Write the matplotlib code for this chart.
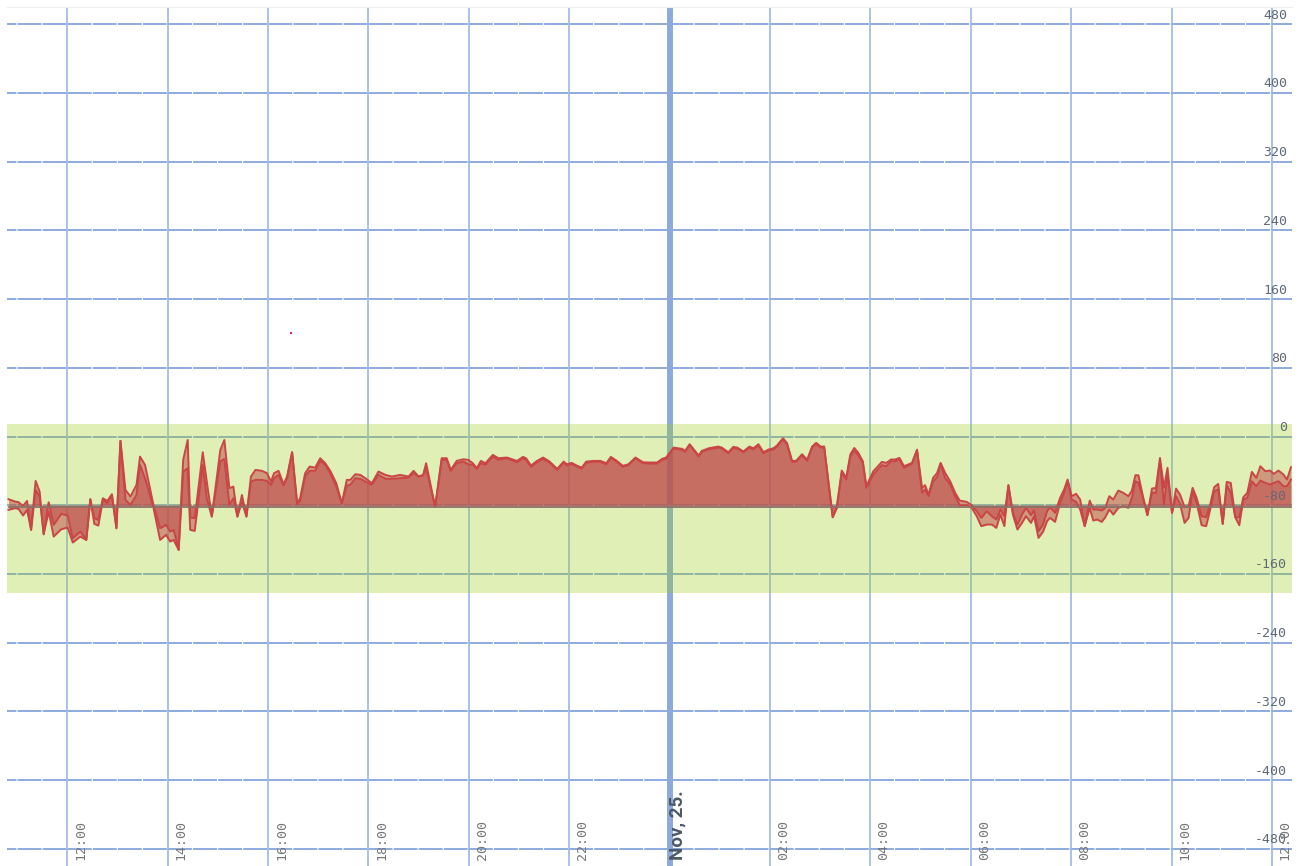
import matplotlib
matplotlib.use("Agg")
import matplotlib.pyplot as plt

# horas desde Nov 24 00:00
hours = [10.83, 10.96, 11.03, 11.12, 11.20, 11.28, 11.37, 11.45, 11.53, 11.63,
         11.73, 11.88, 12.01, 12.11, 12.26, 12.38, 12.46, 12.54, 12.62, 12.71,
         12.80, 12.89, 12.98, 13.06, 13.16, 13.26, 13.38, 13.45, 13.55, 13.72,
         13.85, 13.97, 14.05, 14.12, 14.22, 14.31, 14.40, 14.45, 14.54, 14.70,
         14.78, 14.88, 15.05, 15.13, 15.23, 15.31, 15.39, 15.48, 15.57, 15.66,
         15.75, 15.88, 15.98, 16.06, 16.12, 16.21, 16.31, 16.38, 16.48, 16.58,
         16.64, 16.74, 16.83, 16.94, 17.04, 17.14, 17.24, 17.36, 17.47, 17.57,
         17.64, 17.74, 17.84, 17.94, 18.07, 18.20, 18.34, 18.47, 18.63, 18.80,
         18.90, 19.00, 19.09, 19.15, 19.33, 19.46, 19.56, 19.64, 19.76, 19.89,
         19.99, 20.08, 20.16, 20.24, 20.33, 20.48, 20.59, 20.76, 20.96, 21.08,
         21.14, 21.24, 21.36, 21.48, 21.61, 21.76, 21.89, 21.95, 22.05, 22.15,
         22.25, 22.34, 22.49, 22.62, 22.74, 22.83, 22.95, 23.07, 23.18, 23.32,
         23.47, 23.61, 23.75, 23.85, 23.93, 24.08, 24.25, 24.31, 24.40, 24.58,
         24.64, 24.78, 24.97, 25.04, 25.17, 25.27, 25.35, 25.47, 25.59, 25.67,
         25.77, 25.87, 25.97, 26.07, 26.14, 26.26, 26.34, 26.44, 26.52, 26.64,
         26.74, 26.84, 26.92, 27.01, 27.08, 27.25, 27.33, 27.43, 27.52, 27.60,
         27.68, 27.76, 27.85, 27.92, 28.06, 28.23, 28.32, 28.41, 28.49, 28.58,
         28.67, 28.83, 28.93, 29.03, 29.09, 29.16, 29.25, 29.33, 29.40, 29.49,
         29.59, 29.69, 29.78, 29.92, 30.02, 30.12, 30.21, 30.32, 30.42, 30.51,
         30.59, 30.67, 30.75, 30.84, 30.93, 31.02, 31.10, 31.20, 31.26, 31.35,
         31.44, 31.52, 31.58, 31.68, 31.78, 31.86, 31.93, 32.01, 32.10, 32.18,
         32.27, 32.37, 32.44, 32.52, 32.61, 32.68, 32.76, 32.84, 32.94, 33.04,
         33.14, 33.21, 33.28, 33.34, 33.43, 33.52, 33.61, 33.69, 33.77, 33.85,
         33.92, 34.01, 34.09, 34.17, 34.26, 34.34, 34.42, 34.50, 34.60, 34.69,
         34.77, 34.85, 34.93, 35.02, 35.10, 35.18, 35.27, 35.35, 35.43, 35.51,
         35.60, 35.69, 35.77, 35.87, 35.96, 36.04, 36.13, 36.23, 36.30, 36.38]

serie_a = [-73.0, -75.7, -76.5, -80.8, -75.0, -108.7, -51.7, -64.1, -113.8, -76.5,
           -102.9, -90.0, -92.0, -118.4, -110.7, -120.4, -73.0, -95.1, -97.1, -71.9,
           -75.0, -67.2, -106.8, -5.1, -62.2, -69.9, -56.3, -23.4, -33.1, -80.4,
           -106.8, -102.9, -110.7, -108.7, -132.0, -27.2, -4.0, -94.4, -95.1, -18.3,
           -52.5, -93.2, -15.6, -4.0, -60.2, -58.3, -93.2, -68.0, -93.2, -46.6,
           -38.9, -40.0, -42.7, -52.5, -42.7, -40.0, -55.6, -46.6, -18.3, -77.7,
           -71.9, -42.7, -35.0, -36.2, -25.3, -31.1, -40.0, -54.4, -77.7, -50.5,
           -50.5, -43.9, -44.7, -48.6, -54.4, -40.8, -44.7, -46.6, -44.7, -46.6,
           -40.0, -46.6, -44.7, -31.1, -82.0, -25.3, -25.3, -38.9, -28.4, -26.5,
           -27.2, -31.1, -36.9, -28.4, -31.1, -21.4, -25.3, -24.5, -28.4, -23.7,
           -25.3, -33.8, -28.4, -24.5, -29.2, -37.7, -29.2, -32.3, -30.7, -33.8,
           -36.2, -29.2, -28.4, -28.4, -31.1, -23.7, -28.4, -34.2, -32.3, -24.5,
           -30.0, -30.3, -30.3, -26.1, -24.5, -12.9, -14.4, -16.8, -9.0, -22.2,
           -16.8, -13.7, -11.7, -12.9, -18.3, -12.1, -12.9, -17.5, -11.7, -13.7,
           -9.0, -18.3, -15.2, -13.7, -10.5, -2.0, -7.8, -28.4, -28.4, -20.6,
           -27.2, -11.7, -7.4, -11.7, -11.7, -94.0, -83.1, -39.6, -48.2, -21.0,
           -13.3, -19.1, -28.8, -57.9, -40.4, -29.6, -30.7, -26.8, -26.8, -24.9,
           -34.6, -30.7, -15.2, -59.8, -56.7, -67.6, -48.2, -42.4, -30.7, -42.4,
           -52.1, -65.6, -74.6, -76.1, -80.0, -87.0, -94.7, -87.0, -92.8, -96.7,
           -85.0, -92.8, -56.7, -88.9, -102.5, -90.9, -83.1, -91.6, -86.2, -110.3,
           -102.5, -87.0, -82.3, -88.9, -71.5, -61.8, -50.1, -69.5, -66.8, -73.4,
           -104.4, -74.6, -85.0, -85.0, -86.2, -83.1, -69.5, -73.4, -62.9, -65.6,
           -69.5, -62.9, -45.1, -45.1, -69.5, -91.6, -60.6, -59.8, -24.9, -59.8,
           -36.5, -88.9, -60.6, -67.6, -82.3, -81.2, -59.8, -71.5, -92.8, -94.0,
           -79.2, -59.0, -55.2, -101.7, -52.8, -54.0, -94.0, -94.0, -70.7, -65.6,
           -41.2, -48.2, -34.6, -40.4, -39.6, -43.5, -39.6, -44.3, -50.1, -35.8]

serie_b = [-85.4, -83.5, -84.3, -92.0, -85.4, -108.7, -62.2, -69.9, -113.8, -87.4,
           -116.5, -108.0, -106.0, -123.5, -116.5, -120.4, -73.0, -101.7, -103.7, -73.8,
           -77.7, -68.0, -106.8, -5.1, -73.8, -79.6, -68.0, -33.1, -48.6, -83.5,
           -120.4, -114.5, -122.3, -120.4, -132.0, -40.8, -37.1, -108.7, -109.9, -33.1,
           -72.0, -93.2, -29.2, -26.0, -79.6, -71.9, -93.2, -75.7, -93.2, -52.5,
           -50.5, -50.5, -51.7, -56.3, -48.6, -44.7, -57.1, -48.6, -18.3, -78.8,
           -75.0, -46.6, -40.0, -40.0, -28.4, -33.0, -42.7, -58.3, -77.7, -57.1,
           -56.3, -48.6, -49.3, -52.5, -56.3, -44.7, -49.3, -49.3, -48.6, -47.8,
           -42.7, -46.6, -45.5, -36.9, -82.0, -27.2, -27.2, -40.0, -31.1, -29.2,
           -32.3, -33.0, -37.7, -31.1, -33.0, -23.3, -27.2, -25.3, -30.0, -25.5,
           -27.0, -35.5, -30.0, -26.0, -30.5, -39.0, -30.5, -33.5, -32.0, -35.0,
           -37.5, -30.5, -29.5, -29.5, -32.5, -25.0, -29.5, -35.5, -33.5, -25.5,
           -31.0, -31.5, -31.5, -27.5, -26.0, -14.0, -15.5, -18.0, -10.0, -23.5,
           -18.0, -15.0, -13.0, -14.0, -19.5, -13.5, -14.0, -18.5, -13.0, -15.0,
           -10.5, -19.5, -16.5, -15.0, -12.0, -3.5, -9.0, -29.5, -29.5, -22.0,
           -28.5, -13.0, -8.5, -13.0, -13.0, -94.0, -83.1, -42.4, -50.1, -24.1,
           -16.4, -21.8, -30.7, -59.8, -44.3, -33.4, -34.6, -28.8, -28.8, -26.8,
           -36.5, -31.9, -16.4, -65.6, -61.8, -69.5, -52.1, -47.4, -31.9, -48.2,
           -55.9, -69.5, -80.0, -80.0, -83.1, -92.8, -104.4, -102.5, -102.5, -106.4,
           -90.9, -104.4, -56.7, -90.9, -108.3, -100.6, -92.8, -100.6, -92.8, -118.0,
           -111.0, -98.6, -94.7, -99.4, -77.3, -65.6, -52.1, -73.4, -76.1, -85.0,
           -104.4, -83.1, -97.8, -96.7, -99.4, -94.0, -85.0, -90.9, -83.1, -81.2,
           -83.1, -71.5, -52.1, -54.0, -71.5, -91.6, -65.6, -65.6, -28.8, -79.2,
           -44.3, -88.9, -69.5, -78.4, -100.6, -94.7, -63.7, -77.3, -103.3, -104.4,
           -85.0, -63.7, -61.8, -101.7, -56.7, -65.6, -94.0, -103.3, -73.4, -71.5,
           -52.1, -57.9, -51.3, -54.0, -55.9, -54.0, -52.1, -57.9, -57.9, -50.1]

tick_hours = [12, 14, 16, 18, 20, 22, 24, 26, 28, 30, 32, 34, 36]
tick_labels = ["12:00", "14:00", "16:00", "18:00", "20:00", "22:00", "Nov, 25.",
               "02:00", "04:00", "06:00", "08:00", "10:00", "12:00"]
y_ticks = list(range(-480, 481, 80))
band_low, band_high = -182, 15
base = -80
marca_h, marca_v = 16.46, 120

plt.rcParams['lines.scale_dashes'] = False

fig = plt.figure(figsize=(13.06, 8.66), dpi=100)
ax = fig.add_axes([7 / 1306, 0, 1285 / 1306, 859 / 866])
ax.set_xlim(10.8, 36.4)
ax.set_ylim(-500, 500)
ax.set_xticks([]) ; ax.set_yticks([])
for lado in ["left", "right", "bottom"]:
	ax.spines[lado].set_visible(False)
ax.spines["top"].set_color("#eeeeee")

# rejilla
for v in y_ticks:
	ax.axhline(v, color="#8eaadf", lw=1.4, ls=(10.4, (17.2, 0.85)), zorder=1)
for h in tick_hours:
	if h == 24:
		ax.axvline(h, color="#8eaadc", lw=4.3, zorder=1)
	else:
		ax.axvline(h, color="#98b3e7", lw=1.15, zorder=1)

# banda de referencia
ax.axhspan(band_low, band_high, color=(0.59, 0.8, 0.06), alpha=0.3, lw=0, zorder=2)

# series
ax.fill_between(hours, serie_a, base, color="#c14548", alpha=0.5, lw=0, zorder=3)
ax.fill_between(hours, serie_b, base, color="#c14548", alpha=0.5, lw=0, zorder=3)
ax.plot(hours, serie_a, color="#c94646", lw=1.4, zorder=4)
ax.plot(hours, serie_b, color="#c94646", lw=1.4, zorder=4)
ax.plot([hours[0], hours[-1]], [base - 1.5, base - 1.5], color="#8d6f66", lw=1.3, zorder=4)

ax.plot(marca_h, marca_v, marker="s", ms=2, mew=0, color="#e0204a", zorder=5)

# etiquetas
for v in y_ticks:
	ax.annotate(str(v), xy=(1, v), xycoords=("axes fraction", "data"),
	            xytext=(-3.6, 6.5), textcoords="offset points", ha="right", va="center",
	            family="DejaVu Sans Mono", size=9.5, color="#5f6a76", zorder=6)

for h, lab in zip(tick_hours, tick_labels):
	if h == 24:
		ax.annotate(lab, xy=(h, 0), xycoords=("data", "axes fraction"),
		            xytext=(-0.8, 4.3), textcoords="offset points", ha="left", va="bottom",
		            rotation=90, family="Roboto", fontweight="bold", size=13.5,
		            color="#4b5867", zorder=6)
	else:
		ax.annotate(lab, xy=(h, 0), xycoords=("data", "axes fraction"),
		            xytext=(5, 4.3), textcoords="offset points", ha="left", va="bottom",
		            rotation=90, family="DejaVu Sans Mono", size=9.5,
		            color="#767676", zorder=6)

fig.savefig("out.png", dpi=100)
